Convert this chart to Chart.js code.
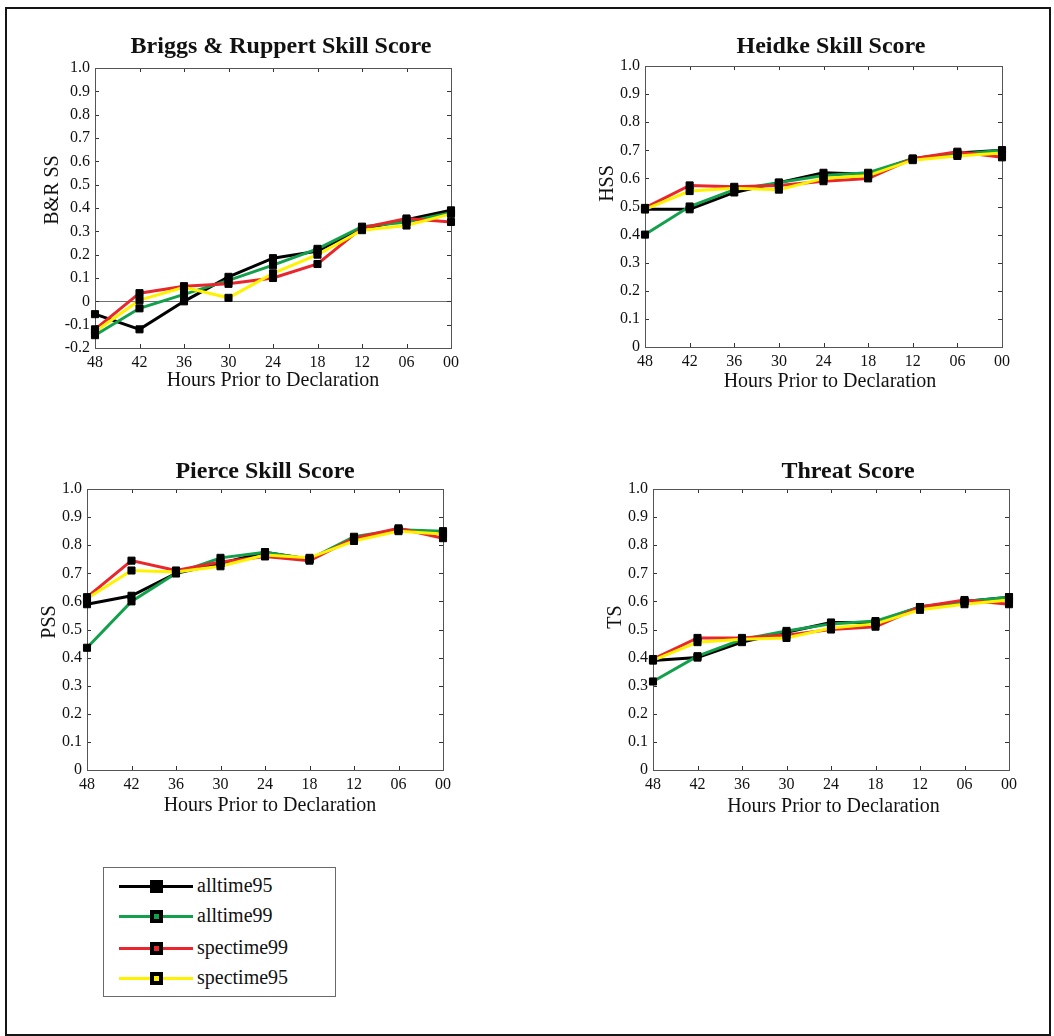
<!DOCTYPE html>
<html>
<head>
<meta charset="utf-8">
<script src="https://cdn.jsdelivr.net/npm/chart.js@4/dist/chart.umd.min.js"></script>
<style>
  html, body { margin: 0; padding: 0; background: #fff; }
  body { width: 1054px; height: 1036px; position: relative; overflow: hidden;
         font-family: "Liberation Serif", "Times New Roman", serif; color: #111; }
  #frame { position: absolute; left: 5px; top: 7px; width: 1046px; height: 1029px;
           border: 2px solid #151515; box-sizing: border-box; }
  canvas.panel { position: absolute; }
  #legend { position: absolute; left: 103px; top: 867px; width: 233px; height: 130px;
            border: 1px solid #6a6a6a; box-sizing: border-box; background: #fff; }
  #legend .ln { position: absolute; left: 15px; width: 74px; height: 3px; }
  #legend .mk { position: absolute; left: 46px; width: 13px; height: 13px;
                box-sizing: border-box; border: 4px solid #000; }
  #legend .tx { position: absolute; left: 93px; font-size: 20px; line-height: 24px; white-space: nowrap; }
</style>
</head>
<body>
<div id="frame"></div>
<div id="legend"></div>
<script>
// Forecast lead times (x-axis tick labels)
const hours = ['48', '42', '36', '30', '24', '18', '12', '06', '00'];

// Series names and colours
const seriesNames = ['alltime95', 'alltime99', 'spectime99', 'spectime95'];
const seriesColors = ['#000000', '#12a04c', '#e8262b', '#fff200'];

// Briggs & Ruppert skill score
const brssAlltime95  = [-0.055, -0.12, 0.00, 0.105, 0.185, 0.215, 0.31, 0.35, 0.39];
const brssAlltime99  = [-0.145, -0.03, 0.03, 0.09, 0.155, 0.225, 0.32, 0.34, 0.38];
const brssSpectime99 = [-0.12, 0.035, 0.065, 0.075, 0.10, 0.16, 0.315, 0.355, 0.34];
const brssSpectime95 = [-0.13, 0.005, 0.06, 0.015, 0.12, 0.20, 0.305, 0.325, 0.375];

// Heidke skill score
const hssAlltime95  = [0.49, 0.49, 0.55, 0.585, 0.62, 0.615, 0.67, 0.69, 0.70];
const hssAlltime99  = [0.40, 0.50, 0.56, 0.585, 0.61, 0.62, 0.67, 0.685, 0.70];
const hssSpectime99 = [0.495, 0.575, 0.57, 0.575, 0.59, 0.60, 0.67, 0.695, 0.675];
const hssSpectime95 = [0.49, 0.555, 0.565, 0.56, 0.60, 0.61, 0.665, 0.68, 0.69];

// Pierce skill score
const pssAlltime95  = [0.59, 0.62, 0.70, 0.735, 0.775, 0.75, 0.825, 0.855, 0.845];
const pssAlltime99  = [0.435, 0.60, 0.70, 0.755, 0.775, 0.75, 0.83, 0.855, 0.85];
const pssSpectime99 = [0.615, 0.745, 0.71, 0.74, 0.76, 0.745, 0.825, 0.86, 0.825];
const pssSpectime95 = [0.61, 0.71, 0.705, 0.725, 0.765, 0.755, 0.815, 0.85, 0.84];

// Threat score
const tsAlltime95  = [0.39, 0.40, 0.455, 0.49, 0.525, 0.525, 0.58, 0.60, 0.615];
const tsAlltime99  = [0.315, 0.405, 0.465, 0.495, 0.52, 0.53, 0.58, 0.60, 0.615];
const tsSpectime99 = [0.395, 0.47, 0.47, 0.48, 0.50, 0.51, 0.58, 0.605, 0.59];
const tsSpectime95 = [0.39, 0.455, 0.465, 0.47, 0.505, 0.52, 0.57, 0.59, 0.605];

const xTitle = 'Hours Prior to Declaration';

// Panel layout: plot box on the page plus text placement around it
const panels = [
  { title: 'Briggs & Ruppert Skill Score', ylabel: 'B&R SS', yMin: -0.2, zeroLine: true,
    series: [brssAlltime95, brssAlltime99, brssSpectime99, brssSpectime95],
    box: { l: 95, t: 68, w: 356, h: 280 },
    txt: { titleDx: 8, titleDy: -15.3, yDx: -36.7, yDy: -18, xDx: 0, xDy: 38 } },
  { title: 'Heidke Skill Score', ylabel: 'HSS', yMin: 0, zeroLine: false,
    series: [hssAlltime95, hssAlltime99, hssSpectime99, hssSpectime95],
    box: { l: 645, t: 66, w: 357, h: 281 },
    txt: { titleDx: 7.5, titleDy: -13.3, yDx: -32, yDy: -23, xDx: 6.5, xDy: 40 } },
  { title: 'Pierce Skill Score', ylabel: 'PSS', yMin: 0, zeroLine: false,
    series: [pssAlltime95, pssAlltime99, pssSpectime99, pssSpectime95],
    box: { l: 87, t: 489, w: 356, h: 281 },
    txt: { titleDx: 0, titleDy: -10.7, yDx: -32, yDy: -7.5, xDx: 5, xDy: 41 } },
  { title: 'Threat Score', ylabel: 'TS', yMin: 0, zeroLine: false,
    series: [tsAlltime95, tsAlltime99, tsSpectime99, tsSpectime95],
    box: { l: 653, t: 489, w: 356, h: 281 },
    txt: { titleDx: 17, titleDy: -11.3, yDx: -32.3, yDy: -12.5, xDx: 2.5, xDy: 42 } }
];

const PAD_L = 70, PAD_T = 62, PAD_R = 25, PAD_B = 60;
const textColor = '#111';
const serif = '"Liberation Serif", "Times New Roman", serif';

// Axes box, inward tick marks, zero line and the panel texts
const matlabAxes = {
  id: 'matlabAxes',
  beforeDatasetsDraw(chart, args, o) {
    const { ctx, chartArea: a, scales: { x, y } } = chart;
    ctx.save();
    if (o.zeroLine) {
      const py = Math.round(y.getPixelForValue(0)) + 0.5;
      ctx.strokeStyle = '#6f6f6f';
      ctx.lineWidth = 1;
      ctx.beginPath();
      ctx.moveTo(a.left, py);
      ctx.lineTo(a.right, py);
      ctx.stroke();
    }
    ctx.strokeStyle = '#333';
    ctx.lineWidth = 1;
    ctx.beginPath();
    y.ticks.forEach((t, i) => {
      const py = Math.round(y.getPixelForTick(i)) + 0.5;
      ctx.moveTo(a.left, py); ctx.lineTo(a.left + 4, py);
      ctx.moveTo(a.right, py); ctx.lineTo(a.right - 4, py);
    });
    x.ticks.forEach((t, i) => {
      const px = Math.round(x.getPixelForTick(i)) + 0.5;
      ctx.moveTo(px, a.bottom); ctx.lineTo(px, a.bottom - 4);
      ctx.moveTo(px, a.top); ctx.lineTo(px, a.top + 4);
    });
    ctx.stroke();
    ctx.strokeStyle = '#555';
    ctx.strokeRect(Math.round(a.left) + 0.5, Math.round(a.top) + 0.5,
                   Math.round(a.right - a.left), Math.round(a.bottom - a.top));
    ctx.restore();
  },
  afterDraw(chart, args, o) {
    const { ctx, chartArea: a } = chart;
    const cx = (a.left + a.right) / 2, cy = (a.top + a.bottom) / 2;
    ctx.save();
    ctx.fillStyle = textColor;
    ctx.textAlign = 'center';
    ctx.textBaseline = 'alphabetic';
    ctx.font = 'bold 24px ' + serif;
    ctx.fillText(o.title, cx + o.titleDx, a.top + o.titleDy);
    ctx.font = '20px ' + serif;
    ctx.fillText(o.xTitle, cx + o.xDx, a.bottom + o.xDy);
    ctx.translate(a.left + o.yDx, cy + o.yDy);
    ctx.rotate(-Math.PI / 2);
    ctx.fillText(o.ylabel, 0, 0);
    ctx.restore();
  }
};

function yTickLabel(v) {
  const r = Math.round(v * 10) / 10;
  return r === 0 ? '0' : r.toFixed(1);
}

panels.forEach((p) => {
  const cv = document.createElement('canvas');
  cv.className = 'panel';
  const W = p.box.w + PAD_L + PAD_R, H = p.box.h + PAD_T + PAD_B;
  cv.width = W; cv.height = H;
  cv.style.left = (p.box.l - PAD_L) + 'px';
  cv.style.top = (p.box.t - PAD_T) + 'px';
  cv.style.width = W + 'px'; cv.style.height = H + 'px';
  document.body.appendChild(cv);

  const lineSets = p.series.map((vals, si) => ({
    label: seriesNames[si],
    data: vals,
    borderColor: seriesColors[si],
    backgroundColor: seriesColors[si],
    borderWidth: 3,
    pointRadius: 0,
    tension: 0,
    clip: false,
    order: 4 - si
  }));
  const markerSets = p.series.map((vals, si) => ({
    label: seriesNames[si] + ' markers',
    data: vals,
    showLine: false,
    pointStyle: 'rect',
    pointRadius: 5,
    pointBorderWidth: 1,
    pointBackgroundColor: '#000',
    pointBorderColor: '#000',
    clip: false,
    order: 0
  }));

  new Chart(cv, {
    type: 'line',
    data: { labels: hours, datasets: lineSets.concat(markerSets) },
    options: {
      responsive: false,
      devicePixelRatio: 1,
      animation: false,
      events: [],
      layout: { padding: { left: 0, top: PAD_T, right: PAD_R, bottom: 0 } },
      plugins: {
        legend: { display: false },
        tooltip: { enabled: false },
        title: { display: false },
        matlabAxes: {
          title: p.title, ylabel: p.ylabel, xTitle: xTitle, zeroLine: p.zeroLine,
          titleDx: p.txt.titleDx, titleDy: p.txt.titleDy,
          yDx: p.txt.yDx, yDy: p.txt.yDy, xDx: p.txt.xDx, xDy: p.txt.xDy
        }
      },
      scales: {
        x: {
          type: 'category',
          offset: false,
          grid: { display: false, drawTicks: false },
          border: { display: false },
          ticks: { color: textColor, font: { family: serif, size: 16 }, padding: 5,
                   maxRotation: 0, autoSkip: false },
          afterFit: (s) => { s.height = PAD_B; }
        },
        y: {
          type: 'linear',
          min: p.yMin,
          max: 1.0,
          grid: { display: false, drawTicks: false },
          border: { display: false },
          ticks: { stepSize: 0.1, color: textColor, font: { family: serif, size: 16 },
                   padding: 5, callback: yTickLabel },
          afterFit: (s) => { s.width = PAD_L; }
        }
      }
    },
    plugins: [matlabAxes]
  });
});

// Legend built from the series names and colours
const legend = document.getElementById('legend');
const rowCenters = [18, 48, 80, 110];
seriesNames.forEach((name, i) => {
  const c = rowCenters[i];
  const ln = document.createElement('div');
  ln.className = 'ln';
  ln.style.top = (c - 1.5) + 'px';
  ln.style.background = seriesColors[i];
  const mk = document.createElement('div');
  mk.className = 'mk';
  mk.style.top = (c - 6.5) + 'px';
  mk.style.background = seriesColors[i];
  const tx = document.createElement('div');
  tx.className = 'tx';
  tx.style.top = (c - 13) + 'px';
  tx.textContent = name;
  legend.appendChild(ln); legend.appendChild(mk); legend.appendChild(tx);
});
</script>
</body>
</html>
